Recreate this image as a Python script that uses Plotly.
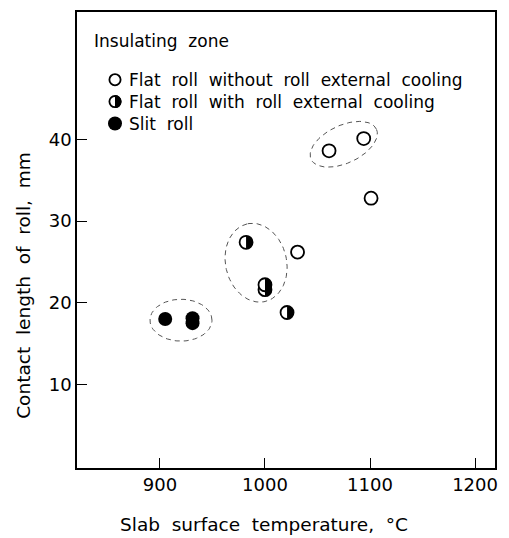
import numpy as np
import plotly.graph_objects as go

# ---- data ----
open_x = [1031, 1061, 1094, 1101]
open_y = [26.2, 38.6, 40.1, 32.8]
half_x = [982, 1000, 1000, 1021]
half_y = [27.4, 21.6, 22.2, 18.8]
slit_x = [905, 931, 931]
slit_y = [18.0, 17.5, 18.1]

legend_labels = [
    "Flat roll without roll external cooling",
    "Flat roll with roll external cooling",
    "Slit roll",
]
legend_title = "Insulating zone"
x_title = "Slab surface temperature, °C"
y_title = "Contact length of roll,  mm"
x_ticks = [900, 1000, 1100, 1200]
y_ticks = [10, 20, 30, 40]

# groups circled by dashed ellipses: centre (data), semi-axes (px), angle (deg)
groups = [
    dict(cx=1075, cy=39.4, a=36, b=19, ang=25),
    dict(cx=991.5, cy=24.9, a=40, b=30.5, ang=103),
    dict(cx=920, cy=17.86, a=31, b=21, ang=0),
]

W, H = 509, 538
ML, MR, MT, MB = 77, 14, 10, 70
XR = [821, 1219]
YR = [-0.24, 55.6]
pw = W - ML - MR
ph = H - MT - MB
sx = pw / (XR[1] - XR[0])
sy = ph / (YR[1] - YR[0])

FONT = "DejaVu Sans"
MS = 13      # marker diameter px
MLW = 1.8    # marker outline width
R = MS / 2.0

def wide(s):
    return s.replace("  ", " ").replace(" ", "\u00a0 ")

fig = go.Figure()

# dashed ellipses
t = np.linspace(0, 2 * np.pi, 97)
for gdef in groups:
    th = np.deg2rad(gdef["ang"])
    px = gdef["a"] * np.cos(t) * np.cos(th) - gdef["b"] * np.sin(t) * np.sin(th)
    py = gdef["a"] * np.cos(t) * np.sin(th) + gdef["b"] * np.sin(t) * np.cos(th)
    fig.add_trace(go.Scatter(x=gdef["cx"] + px / sx, y=gdef["cy"] + py / sy,
                             mode="lines",
                             line=dict(color="#555", width=1, dash="5px,4px"),
                             showlegend=False, hoverinfo="skip"))

open_marker = dict(symbol="circle", size=MS, color="white",
                   line=dict(color="black", width=MLW))
fig.add_trace(go.Scatter(x=open_x, y=open_y, mode="markers", marker=open_marker,
                         showlegend=False, hoverinfo="skip", cliponaxis=False))
fig.add_trace(go.Scatter(x=half_x, y=half_y, mode="markers", marker=open_marker,
                         showlegend=False, hoverinfo="skip", cliponaxis=False))
fig.add_trace(go.Scatter(x=slit_x, y=slit_y, mode="markers",
                         marker=dict(symbol="circle", size=MS + 1, color="black",
                                     line=dict(color="black", width=0)),
                         showlegend=False, hoverinfo="skip", cliponaxis=False))

# right-half black fill for half-filled markers (pixel-sized path at each data point)
aa = np.linspace(-np.pi / 2, np.pi / 2, 25)
half_path = "M " + " L ".join(f"{R*np.cos(a):.2f},{R*np.sin(a):.2f}" for a in aa) + " Z"

shapes = []
for hx, hy in zip(half_x, half_y):
    shapes.append(dict(type="path", xref="x", yref="y", xsizemode="pixel",
                       ysizemode="pixel", xanchor=hx, yanchor=hy, path=half_path,
                       fillcolor="black", line=dict(width=0), layer="above"))

def px2paper(x, y):
    return (x - ML) / pw, (H - MB - y) / ph

anns = []
tx, ty = px2paper(92, 39)
anns.append(dict(x=tx, y=ty, xref="paper", yref="paper", text=wide(legend_title),
                 showarrow=False, xanchor="left", yanchor="middle",
                 font=dict(family=FONT, size=17, color="black")))
kinds = ["open", "half", "full"]
for i, (lab, k) in enumerate(zip(legend_labels, kinds)):
    gy = 78 + 22 * i
    gx, gyp = px2paper(115, gy)
    if k == "full":
        shapes.append(dict(type="circle", xref="paper", yref="paper",
                           xsizemode="pixel", ysizemode="pixel", xanchor=gx, yanchor=gyp,
                           x0=-R - 0.5, x1=R + 0.5, y0=-R - 0.5, y1=R + 0.5,
                           fillcolor="black", line=dict(width=0)))
    else:
        shapes.append(dict(type="circle", xref="paper", yref="paper",
                           xsizemode="pixel", ysizemode="pixel", xanchor=gx, yanchor=gyp,
                           x0=-R + MLW / 2, x1=R - MLW / 2, y0=-R + MLW / 2, y1=R - MLW / 2,
                           fillcolor="white", line=dict(color="black", width=MLW)))
        if k == "half":
            shapes.append(dict(type="path", xref="paper", yref="paper",
                               xsizemode="pixel", ysizemode="pixel", xanchor=gx,
                               yanchor=gyp, path=half_path, fillcolor="black",
                               line=dict(width=0)))
    lx, lyp = px2paper(127, gy)
    anns.append(dict(x=lx, y=lyp, xref="paper", yref="paper", text=wide(lab),
                     showarrow=False, xanchor="left", yanchor="middle",
                     font=dict(family=FONT, size=17, color="black")))

xtx, xty = px2paper(264, 525)
anns.append(dict(x=xtx, y=xty, xref="paper", yref="paper", text=wide(x_title),
                 showarrow=False, xanchor="center", yanchor="middle",
                 font=dict(family=FONT, size=18.5, color="black")))
ytx, yty = px2paper(24, 285)
anns.append(dict(x=ytx, y=yty, xref="paper", yref="paper", text=wide(y_title),
                 showarrow=False, xanchor="center", yanchor="middle", textangle=-90,
                 font=dict(family=FONT, size=18.5, color="black")))

fig.update_layout(
    width=W, height=H,
    margin=dict(l=ML, r=MR, t=MT, b=MB, pad=0),
    paper_bgcolor="white", plot_bgcolor="white",
    annotations=anns, shapes=shapes,
    showlegend=False,
    font=dict(family=FONT, color="black"),
)
axis_common = dict(ticks="inside", ticklen=10, tickwidth=1.2, tickcolor="black",
                   showline=True, linecolor="black", linewidth=1.5, mirror=True,
                   showgrid=False, zeroline=False,
                   tickfont=dict(family=FONT, size=18, color="black"))
fig.update_xaxes(range=XR, tickvals=x_ticks, ticktext=[str(v) for v in x_ticks],
                 **axis_common)
fig.update_yaxes(range=YR, tickvals=y_ticks, ticktext=[str(v) for v in y_ticks],
                 **axis_common)

fig.write_html("out.html")
